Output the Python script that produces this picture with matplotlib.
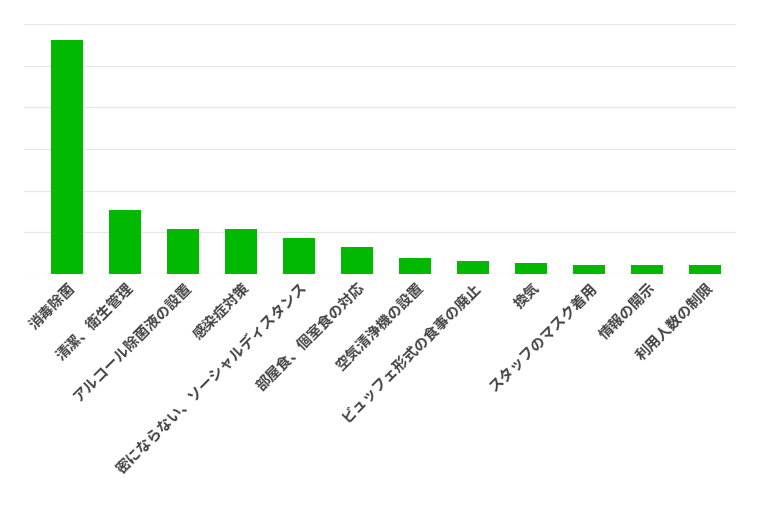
import matplotlib.pyplot as plt

plt.rcParams['font.family'] = ['Noto Sans CJK JP', 'DejaVu Sans']

categories = ['消毒除菌', '清潔、衛生管理', 'アルコール除菌液の設置', '感染症対策',
              '密にならない、ソーシャルディスタンス', '部屋食、個室食の対応', '空気清浄機の設置',
              'ビュッフェ形式の食事の廃止', '換気', 'スタッフのマスク着用', '情報の開示', '利用人数の制限']
values = [56.2, 15.4, 10.8, 10.8, 8.6, 6.5, 3.8, 3.1, 2.6, 2.2, 2.2, 2.2]

fig = plt.figure(figsize=(7.6, 5.07), dpi=100)
ax = fig.add_axes([0.0316, 0.4596, 0.9368, 0.4931])
x = range(len(categories))
ax.bar(x, values, width=0.55, color='#00b900', zorder=3)
ax.set_xlim(-0.74, len(categories) - 0.47)
ax.set_ylim(0, 60)
ax.set_yticks(range(0, 61, 10))
ax.yaxis.grid(True, color='#e6e6e6', linewidth=0.8, zorder=0)
ax.tick_params(axis='y', left=False, labelleft=False)
ax.tick_params(axis='x', length=0, pad=4)
ax.set_xticks(list(x))
ax.set_xticklabels(categories, rotation=45, ha='right', rotation_mode='anchor',
                   fontsize=10.5, fontweight='bold', color='#444444')
for s in ax.spines.values():
    s.set_visible(False)

fig.savefig('out.png', dpi=100)
